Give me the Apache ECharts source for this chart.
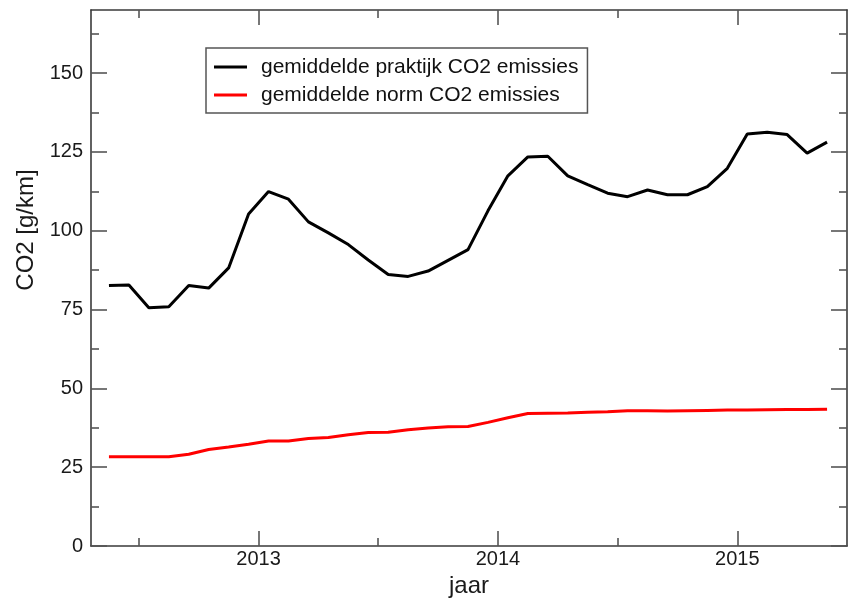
<!DOCTYPE html>
<html>
<head>
<meta charset="utf-8">
<script src="https://cdn.jsdelivr.net/npm/echarts@6/dist/echarts.min.js"></script>
<style>
  html, body { margin: 0; padding: 0; background: #ffffff; }
  #chart { width: 848px; height: 608px; }
</style>
</head>
<body>
<div id="chart"></div>
<script>
// Monthly observations (YYYY-MM)
const months = [
  '2012-05', '2012-06', '2012-07', '2012-08', '2012-09', '2012-10', '2012-11', '2012-12',
  '2013-01', '2013-02', '2013-03', '2013-04', '2013-05', '2013-06', '2013-07', '2013-08',
  '2013-09', '2013-10', '2013-11', '2013-12',
  '2014-01', '2014-02', '2014-03', '2014-04', '2014-05', '2014-06', '2014-07', '2014-08',
  '2014-09', '2014-10', '2014-11', '2014-12',
  '2015-01', '2015-02', '2015-03', '2015-04', '2015-05'
];

// Average real-world CO2 emissions [g/km]
const praktijk = [
  82.6, 82.8, 75.6, 75.9, 82.6, 81.8, 88.2, 105.3,
  112.4, 110.0, 102.8, 99.3, 95.6, 90.7, 86.1, 85.5, 87.2, 90.6, 94.0, 106.3,
  117.4, 123.4, 123.6, 117.4, 114.6, 111.9, 110.8, 112.9, 111.4, 111.4, 114.0, 119.8,
  130.7, 131.2, 130.5, 124.6, 128.1
];

// Average type-approval CO2 emissions [g/km]
const norm = [
  28.3, 28.3, 28.3, 28.3, 29.1, 30.6, 31.4, 32.3,
  33.3, 33.3, 34.1, 34.4, 35.3, 36.0, 36.1, 36.9, 37.4, 37.8, 37.9, 39.2,
  40.7, 42.0, 42.1, 42.2, 42.4, 42.6, 42.9, 42.9, 42.8, 42.9, 43.0, 43.1,
  43.1, 43.2, 43.3, 43.3, 43.4
];

// Tick positions
const xMajorTicks = [2013, 2014, 2015];
const xMinorTicks = [2012.5, 2013.5, 2014.5];
const yMajorTicks = [0, 25, 50, 75, 100, 125, 150];
const yMinorTicks = [12.5, 37.5, 62.5, 87.5, 112.5, 137.5, 162.5];

const X_MIN = 2012.3, X_MAX = 2015.4583;
const Y_MIN = 0, Y_MAX = 170;

const FONT = '"Liberation Sans", Arial, Helvetica, sans-serif';
const FRAME = '#3a3a3a';
const TICK = '#555555';

// month string -> decimal year at the middle of that month
function toYear(m) {
  const [y, mo] = m.split('-').map(Number);
  return y + (mo - 0.5) / 12;
}

function axisBase(min, max, position, ticks, tickLen, withLine) {
  return {
    type: 'value',
    position: position,
    min: min,
    max: max,
    splitLine: { show: false },
    axisLine: { show: withLine, onZero: false, lineStyle: { color: FRAME, width: 1.6 } },
    axisTick: {
      show: true, inside: true, length: tickLen, customValues: ticks,
      lineStyle: { color: TICK, width: 1.6 }
    },
    axisLabel: { show: false }
  };
}

// Bottom axis carries the year labels and the axis name
const xBottom = axisBase(X_MIN, X_MAX, 'bottom', xMajorTicks, 15, true);
xBottom.axisLabel = {
  show: true, customValues: xMajorTicks, margin: 3,
  color: '#1a1a1a', fontSize: 20, fontFamily: FONT,
  formatter: v => String(Math.round(v))
};
xBottom.name = 'jaar';
xBottom.nameLocation = 'middle';
xBottom.nameGap = 26;
xBottom.nameTextStyle = { color: '#1a1a1a', fontSize: 24, fontFamily: FONT };

const yLeft = axisBase(Y_MIN, Y_MAX, 'left', yMajorTicks, 16, true);
yLeft.axisLabel = {
  show: true, customValues: yMajorTicks, margin: 8,
  color: '#1a1a1a', fontSize: 20, fontFamily: FONT
};
yLeft.name = 'CO2 [g/km]';
yLeft.nameLocation = 'middle';
yLeft.nameGap = 42;
// the title sits a little above the middle of the axis
yLeft.nameTextStyle = { color: '#1a1a1a', fontSize: 24, fontFamily: FONT, padding: [0, 0, 0, 96] };

const option = {
  animation: false,
  backgroundColor: '#ffffff',
  grid: { left: 91, right: 1, top: 10, bottom: 62, containLabel: false },
  legend: {
    orient: 'vertical',
    left: 206,
    top: 48,
    backgroundColor: '#ffffff',
    borderColor: '#555555',
    borderWidth: 1.5,
    borderRadius: 0,
    padding: [8, 9, 7, 8],
    itemGap: 6,
    itemWidth: 33,
    itemHeight: 3,
    icon: 'rect',
    textStyle: {
      color: '#111111', fontSize: 21, fontFamily: FONT, lineHeight: 22,
      padding: [0, 0, 0, 9]
    },
    data: ['gemiddelde praktijk CO2 emissies', 'gemiddelde norm CO2 emissies']
  },
  xAxis: [
    xBottom,
    axisBase(X_MIN, X_MAX, 'bottom', xMinorTicks, 8, false),
    axisBase(X_MIN, X_MAX, 'top', xMajorTicks, 15, true),
    axisBase(X_MIN, X_MAX, 'top', xMinorTicks, 8, false)
  ],
  yAxis: [
    yLeft,
    axisBase(Y_MIN, Y_MAX, 'left', yMinorTicks, 8, false),
    axisBase(Y_MIN, Y_MAX, 'right', yMajorTicks, 16, true),
    axisBase(Y_MIN, Y_MAX, 'right', yMinorTicks, 8, false)
  ],
  series: [
    {
      name: 'gemiddelde praktijk CO2 emissies',
      type: 'line',
      xAxisIndex: 0, yAxisIndex: 0,
      showSymbol: false,
      color: '#000000',
      lineStyle: { color: '#000000', width: 3 },
      data: months.map((m, i) => [toYear(m), praktijk[i]])
    },
    {
      name: 'gemiddelde norm CO2 emissies',
      type: 'line',
      xAxisIndex: 0, yAxisIndex: 0,
      showSymbol: false,
      color: '#ff0000',
      lineStyle: { color: '#ff0000', width: 3 },
      data: months.map((m, i) => [toYear(m), norm[i]])
    }
  ]
};

const chart = echarts.init(document.getElementById('chart'), null, { renderer: 'canvas' });
chart.setOption(option);
</script>
</body>
</html>
